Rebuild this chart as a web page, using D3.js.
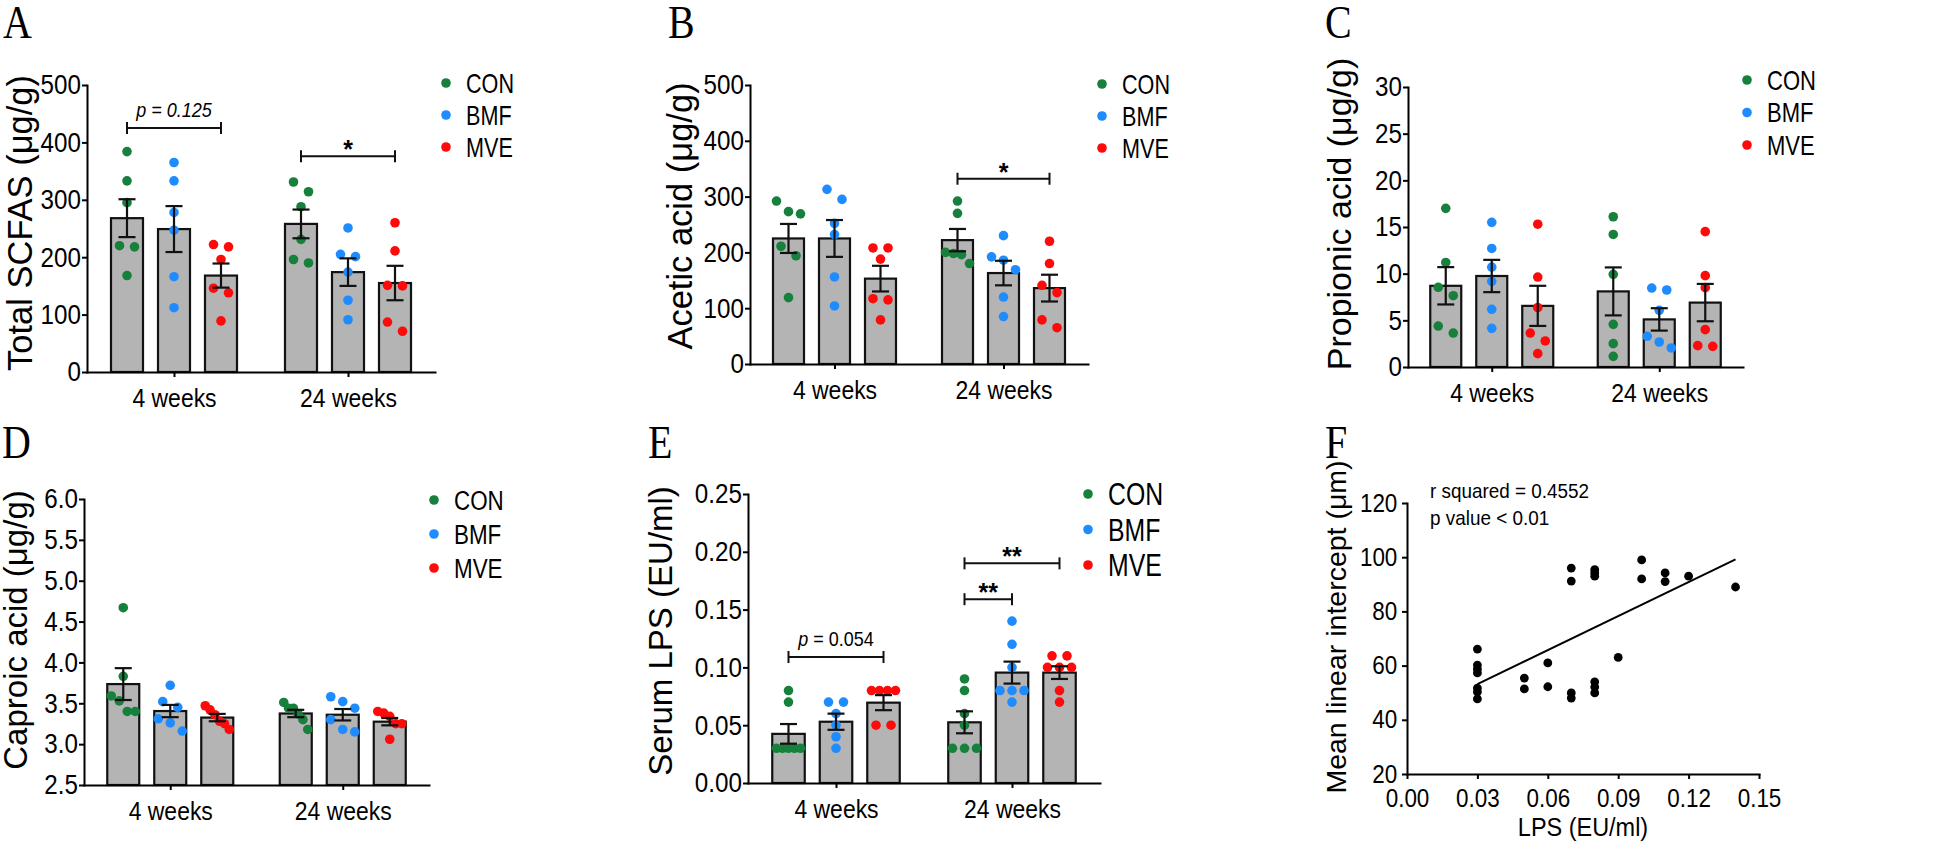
<!DOCTYPE html>
<html><head><meta charset="utf-8">
<script src="https://cdn.jsdelivr.net/npm/d3@7"></script>
<style>
body{margin:0;background:#fff}
</style>
</head><body>
<svg id="chart" width="1946" height="852" font-family="Liberation Sans, Arial, Helvetica, sans-serif"></svg>
<script>
// ---------- shared categories ----------
const groups = ["4 weeks", "24 weeks"];
const series = ["CON", "BMF", "MVE"];
const seriesColors = ["#16803c", "#1e8cff", "#ff0a0a"];

// ---------- A: Total SCFAS ----------
const scfaMean = [[268, 249, 168], [258, 174, 155]];
const scfaSem  = [[33, 40, 21], [25, 24, 30]];
const scfaPts = [
  [[384, 333, 295, 220, 218, 168], [365, 333, 278, 247, 166, 112], [222, 218, 196, 146, 138, 89]],
  [[331, 314, 288, 231, 196, 190], [251, 205, 201, 174, 125, 91], [260, 211, 151, 150, 87, 71]]
];
const scfaTicks = [0, 100, 200, 300, 400, 500];

// ---------- B: Acetic acid ----------
const aceticMean = [[225, 225, 153], [222, 163, 136]];
const aceticSem  = [[26, 33, 23], [20, 22, 24]];
const aceticPts = [
  [[292, 273, 269, 211, 194, 119], [313, 295, 252, 232, 156, 104], [208, 208, 188, 117, 115, 79]],
  [[292, 270, 200, 198, 196, 180], [230, 192, 186, 169, 120, 85], [220, 180, 141, 128, 79, 65]]
];
const aceticTicks = [0, 100, 200, 300, 400, 500];

// ---------- C: Propionic acid ----------
const propMean = [[8.7, 9.75, 6.55], [8.1, 5.1, 6.9]];
const propSem  = [[2.0, 1.73, 2.15], [2.57, 1.2, 2.0]];
const propPts = [
  [[17.0, 11.2, 8.54, 7.64, 4.39, 3.64], [15.5, 12.7, 10.7, 9.18, 6.18, 4.14], [15.3, 9.64, 6.36, 3.64, 2.79, 1.43]],
  [[16.1, 14.2, 9.93, 4.57, 2.5, 1.14], [8.46, 8.25, 6.07, 3.29, 2.68, 2.04], [14.5, 9.79, 8.5, 4.0, 2.29, 2.21]]
];
const propTicks = [0, 5, 10, 15, 20, 25, 30];

// ---------- D: Caproic acid ----------
const caproMean = [[3.735, 3.405, 3.325], [3.375, 3.36, 3.275]];
const caproSem  = [[0.195, 0.075, 0.045], [0.045, 0.07, 0.045]];
const caproPts = [
  [[4.67, 3.83, 3.59, 3.53, 3.40, 3.40], [3.72, 3.52, 3.45, 3.31, 3.26, 3.16], [3.47, 3.42, 3.36, 3.28, 3.25, 3.18]],
  [[3.51, 3.44, 3.44, 3.37, 3.30, 3.18], [3.58, 3.52, 3.44, 3.30, 3.18, 3.15], [3.40, 3.38, 3.34, 3.25, 3.25, 3.06]]
];
const caproTicks = [2.5, 3.0, 3.5, 4.0, 4.5, 5.0, 5.5, 6.0];

// ---------- E: Serum LPS ----------
const lpsMean = [[0.0425, 0.053, 0.0695], [0.0525, 0.0955, 0.0955]];
const lpsSem  = [[0.0085, 0.007, 0.0065], [0.0095, 0.0095, 0.0055]];
const lpsPts = [
  [[0.08, 0.07, 0.03, 0.03, 0.03, 0.03, 0.03], [0.07, 0.07, 0.06, 0.05, 0.04, 0.03], [0.08, 0.08, 0.08, 0.08, 0.05, 0.05]],
  [[0.09, 0.08, 0.06, 0.05, 0.03, 0.03, 0.03], [0.14, 0.12, 0.10, 0.08, 0.08, 0.08, 0.07], [0.11, 0.11, 0.10, 0.10, 0.10, 0.08, 0.07]]
];
const lpsTicks = [0, 0.05, 0.10, 0.15, 0.20, 0.25];

// ---------- F: correlation ----------
const corrLps = [0.03, 0.03, 0.03, 0.03, 0.03, 0.03, 0.03, 0.05, 0.05, 0.06, 0.06,
  0.07, 0.07, 0.07, 0.07, 0.08, 0.08, 0.08, 0.08, 0.08, 0.08, 0.09, 0.10, 0.10, 0.11, 0.11, 0.12, 0.14];
const corrMli = [66.1, 60.2, 58.7, 57.3, 51.7, 50.3, 47.7, 55.4, 51.4, 61, 52.2,
  96, 91.2, 49.9, 48, 95.4, 94.2, 93, 54, 52.1, 49.9, 63, 99, 92, 94.2, 91, 93, 89];
const corrXTicks = [0, 0.03, 0.06, 0.09, 0.12, 0.15];
const corrYTicks = [20, 40, 60, 80, 100, 120];
const corrText = ["r squared = 0.4552", "p value < 0.01"];

// ---------- significance annotations (group, from series, to series, y value, label) ----------
const scfaSig = [
  {g: 0, a: 0, b: 2, y: 425, label: "p = 0.125", kind: "pall"},
  {g: 1, a: 0, b: 2, y: 376, label: "*", kind: "star"}
];
const aceticSig = [{g: 1, a: 0, b: 2, y: 332, label: "*", kind: "star"}];
const lpsSig = [
  {g: 0, a: 0, b: 2, y: 0.109, label: "p = 0.054", kind: "p"},
  {g: 1, a: 0, b: 2, y: 0.190, label: "**", kind: "star"},
  {g: 1, a: 0, b: 1, y: 0.159, label: "**", kind: "star"}
];

// ================= drawing =================
const svg = d3.select("#chart");
const AX = 2;
const SANS = "Liberation Sans, Arial, Helvetica, sans-serif";

function jitter(vals, y) {
  const idx = vals.map((v, i) => i).sort((a, b) => vals[b] - vals[a] || a - b);
  const clusters = []; let cur = [];
  idx.forEach(i => {
    if (cur.length && Math.abs(y(vals[i]) - y(vals[cur[cur.length - 1]])) > 11) { clusters.push(cur); cur = []; }
    cur.push(i);
  });
  if (cur.length) clusters.push(cur);
  const off = vals.map(() => 0);
  clusters.forEach(c => {
    const n = c.length; if (n < 2) return;
    const W = Math.min((n - 1) * 15, 24);
    c.forEach((i, k) => { off[i] = -W / 2 + k * W / (n - 1); });
  });
  return off;
}

function styleAxis(sel, fs, sx) {
  sel.attr("font-family", SANS);
  sel.select(".domain").attr("stroke", "#000").attr("stroke-width", AX).attr("stroke-linecap", "square");
  sel.selectAll(".tick line").attr("stroke", "#000").attr("stroke-width", AX);
  sel.selectAll(".tick text").attr("font-size", fs).attr("fill", "#000")
    .attr("transform", `scale(${sx},1)`);
}

function panelLetter(letter, x, y) {
  svg.append("text").attr("transform", `translate(${x},${y}) scale(0.85,1)`)
    .style("font-family", "'Liberation Serif', 'Times New Roman', serif").attr("font-size", 47).text(letter);
}

function yTitle(text, x, y, fs) {
  svg.append("text").attr("transform", `translate(${x},${y}) rotate(-90)`)
    .attr("text-anchor", "middle").attr("font-size", fs).text(text);
}

function legend(L) {
  const g = svg.append("g");
  series.forEach((s, i) => {
    g.append("circle").attr("cx", L.x).attr("cy", L.y + i * L.dy).attr("r", 4.8).attr("fill", seriesColors[i]);
    g.append("text").attr("transform", `translate(${L.x + 20},${L.y + i * L.dy}) scale(0.8,1)`)
      .attr("dy", "0.36em").attr("font-size", L.fs).text(s);
  });
}

function barPanel(c) {
  const g = svg.append("g");
  const y = d3.scaleLinear().domain([c.ticks[0], c.ticks[c.ticks.length - 1]]).range([c.y0, c.y1]);
  const gx = d3.scalePoint().domain(groups).range([c.x0, c.x1]).padding(0.5);
  const sx = d3.scalePoint().domain(series).range([-c.off, c.off]);
  const rows = [];
  groups.forEach((gn, gi) => series.forEach((s, si) => rows.push({
    gi, si, mean: c.mean[gi][si], sem: c.sem[gi][si], pts: c.pts[gi][si], cx: gx(gn) + sx(s)
  })));
  const base = y(c.ticks[0]);
  g.selectAll("rect.bar").data(rows).join("rect").attr("class", "bar")
    .attr("x", d => d.cx - c.bw / 2).attr("width", c.bw)
    .attr("y", d => y(d.mean)).attr("height", d => base - y(d.mean))
    .attr("fill", "#b4b4b4").attr("stroke", "#111").attr("stroke-width", 2.2);
  rows.forEach(d => {
    const off = jitter(d.pts, y);
    g.selectAll(null).data(d.pts).join("circle")
      .attr("cx", (v, i) => d.cx + off[i]).attr("cy", v => y(v)).attr("r", 4.8)
      .attr("fill", seriesColors[d.si]);
  });
  const eb = g.selectAll("g.eb").data(rows).join("g").attr("class", "eb")
    .attr("stroke", "#111").attr("stroke-width", 2.2);
  eb.append("line").attr("x1", d => d.cx).attr("x2", d => d.cx)
    .attr("y1", d => y(d.mean - d.sem)).attr("y2", d => y(d.mean + d.sem));
  [1, -1].forEach(sg => eb.append("line").attr("x1", d => d.cx - 8.5).attr("x2", d => d.cx + 8.5)
    .attr("y1", d => y(d.mean + sg * d.sem)).attr("y2", d => y(d.mean + sg * d.sem)));
  // axes
  const ya = g.append("g").attr("transform", `translate(${c.x0},0)`)
    .call(d3.axisLeft(y).tickValues(c.ticks).tickFormat(d3.format(c.fmt)).tickSize(5).tickSizeOuter(0).tickPadding(2));
  styleAxis(ya, 27.5, 0.88);
  const xa = g.append("g").attr("transform", `translate(0,${c.y0})`)
    .call(d3.axisBottom(gx).tickSize(5).tickSizeOuter(0).tickPadding(12));
  styleAxis(xa, 25.5, 0.9);
  // significance
  (c.sig || []).forEach(s => {
    const xa1 = gx(groups[s.g]) + sx(series[s.a]), xb = gx(groups[s.g]) + sx(series[s.b]);
    const yy = y(s.y);
    const sg = g.append("g").attr("stroke", "#111").attr("stroke-width", 2);
    sg.append("line").attr("x1", xa1).attr("x2", xb).attr("y1", yy).attr("y2", yy);
    sg.append("line").attr("x1", xa1).attr("x2", xa1).attr("y1", yy - 6).attr("y2", yy + 6);
    sg.append("line").attr("x1", xb).attr("x2", xb).attr("y1", yy - 6).attr("y2", yy + 6);
    const cx = (xa1 + xb) / 2;
    if (s.kind === "star") {
      g.append("text").attr("x", cx).attr("y", yy + 2).attr("text-anchor", "middle")
        .attr("font-size", 25).attr("font-weight", "bold").text(s.label);
    } else {
      const t = g.append("text").attr("transform", `translate(${cx},${yy - 11}) scale(0.9,1)`)
        .attr("text-anchor", "middle").attr("font-size", 20);
      if (s.kind === "pall") t.attr("font-style", "italic").text(s.label);
      else { t.append("tspan").attr("font-style", "italic").text(s.label.slice(0, 1)); t.append("tspan").text(s.label.slice(1)); }
    }
  });
  yTitle(c.title, c.tx, c.ty, c.tfs);
  legend(c.legend);
  panelLetter(c.letter, c.lx, c.ly);
}

barPanel({letter: "A", lx: 3, ly: 38, mean: scfaMean, sem: scfaSem, pts: scfaPts, ticks: scfaTicks, fmt: "d",
  x0: 87, x1: 435, y0: 372, y1: 85, off: 47, bw: 32, sig: scfaSig,
  title: "Total SCFAS (μg/g)", tx: 32, ty: 223, tfs: 34.5, legend: {x: 446, y: 83, dy: 32, fs: 27}});
barPanel({letter: "B", lx: 668, ly: 38, mean: aceticMean, sem: aceticSem, pts: aceticPts, ticks: aceticTicks, fmt: "d",
  x0: 750, x1: 1088, y0: 364, y1: 85, off: 46, bw: 31, sig: aceticSig,
  title: "Acetic acid (μg/g)", tx: 692, ty: 216, tfs: 34.5, legend: {x: 1102, y: 84, dy: 32, fs: 27}});
barPanel({letter: "C", lx: 1325, ly: 38, mean: propMean, sem: propSem, pts: propPts, ticks: propTicks, fmt: "d",
  x0: 1408, x1: 1743, y0: 367, y1: 87, off: 46, bw: 31, sig: [],
  title: "Propionic acid (μg/g)", tx: 1351, ty: 214, tfs: 34, legend: {x: 1747, y: 80, dy: 32.5, fs: 27.5}});
barPanel({letter: "D", lx: 2, ly: 458, mean: caproMean, sem: caproSem, pts: caproPts, ticks: caproTicks, fmt: ".1f",
  x0: 84, x1: 429, y0: 785, y1: 499, off: 47, bw: 32, sig: [],
  title: "Caproic acid (μg/g)", tx: 27, ty: 630, tfs: 33, legend: {x: 434, y: 500, dy: 34, fs: 28}});
barPanel({letter: "E", lx: 648, ly: 458, mean: lpsMean, sem: lpsSem, pts: lpsPts, ticks: lpsTicks, fmt: ".2f",
  x0: 748, x1: 1100, y0: 783, y1: 494, off: 47.5, bw: 32.5, sig: lpsSig,
  title: "Serum LPS (EU/ml)", tx: 672, ty: 631, tfs: 33, legend: {x: 1088, y: 494, dy: 35.5, fs: 31}});

// ---------- Panel F ----------
(function () {
  const g = svg.append("g");
  const x = d3.scaleLinear().domain([corrXTicks[0], corrXTicks[corrXTicks.length - 1]]).range([1407, 1759]);
  const y = d3.scaleLinear().domain([corrYTicks[0], corrYTicks[corrYTicks.length - 1]]).range([774, 503]);
  const mx = d3.mean(corrLps), my = d3.mean(corrMli);
  let sxy = 0, sxx = 0;
  corrLps.forEach((v, i) => { sxy += (v - mx) * (corrMli[i] - my); sxx += (v - mx) * (v - mx); });
  const slope = sxy / sxx, icpt = my - slope * mx;
  const [xmin, xmax] = d3.extent(corrLps);
  g.selectAll("circle").data(corrLps).join("circle")
    .attr("cx", d => x(d)).attr("cy", (d, i) => y(corrMli[i])).attr("r", 4.4).attr("fill", "#000");
  g.append("line").attr("x1", x(xmin)).attr("x2", x(xmax))
    .attr("y1", y(icpt + slope * xmin)).attr("y2", y(icpt + slope * xmax))
    .attr("stroke", "#000").attr("stroke-width", 2);
  const ya = g.append("g").attr("transform", "translate(1407,0)")
    .call(d3.axisLeft(y).tickValues(corrYTicks).tickFormat(d3.format("d")).tickSize(5).tickSizeOuter(0).tickPadding(6));
  styleAxis(ya, 25.5, 0.88);
  const xa = g.append("g").attr("transform", "translate(0,774)")
    .call(d3.axisBottom(x).tickValues(corrXTicks).tickFormat(d3.format(".2f")).tickSize(5).tickSizeOuter(0).tickPadding(10));
  styleAxis(xa, 25.5, 0.88);
  g.append("text").attr("transform", "translate(1583,836) scale(0.92,1)").attr("text-anchor", "middle")
    .attr("font-size", 25.5).text("LPS (EU/ml)");
  yTitle("Mean linear intercept (μm)", 1346, 627, 28.5);
  corrText.forEach((t, i) => g.append("text").attr("transform", `translate(1430,${498 + i * 27}) scale(0.9,1)`)
    .attr("font-size", 21).text(t));
  panelLetter("F", 1325, 458);
})();
</script>
</body></html>
